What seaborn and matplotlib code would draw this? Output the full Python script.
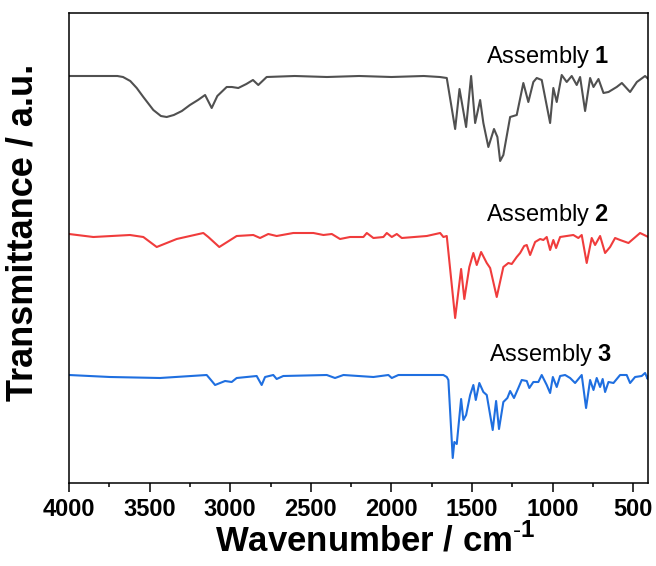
import numpy as np
import pandas as pd
import matplotlib
matplotlib.use("Agg")
import matplotlib.pyplot as plt
import seaborn as sns

# ---------------- data ----------------
wn1 = [4000, 3849, 3750, 3700, 3665, 3620, 3580, 3539, 3477, 3430, 3394, 3350, 3300, 3250,
       3200, 3156, 3115, 3080, 3022, 2990, 2950, 2900, 2859, 2826, 2774, 2600, 2400, 2200,
       2000, 1800, 1700, 1657, 1605, 1578, 1537, 1506, 1481, 1450, 1430, 1399, 1364, 1343,
       1326, 1306, 1264, 1223, 1182, 1151, 1120, 1099, 1068, 1016, 996, 975, 944, 913, 882,
       851, 830, 799, 768, 747, 716, 685, 654, 603, 571, 520, 478, 427, 407]
tr1 = [407, 407, 407, 407, 406, 402, 395, 386, 373, 367, 366, 368, 372, 378,
       383, 388, 375, 387, 396, 396, 395, 399, 403, 398, 406, 407, 406, 407,
       406, 407, 406, 405, 354, 394, 356, 407, 360, 383, 360, 336, 354, 346,
       322, 328, 366, 368, 400, 381, 401, 405, 403, 360, 395, 381, 408, 401, 407,
       398, 406, 372, 405, 396, 404, 390, 391, 396, 400, 391, 401, 407, 404]

wn2 = [4000, 3849, 3622, 3539, 3456, 3332, 3167, 3136, 3068, 2960, 2857, 2815, 2764, 2712,
       2609, 2484, 2422, 2370, 2319, 2257, 2174, 2153, 2112, 2050, 2029, 1998, 1967, 1936,
       1781, 1698, 1678, 1657, 1605, 1568, 1548, 1517, 1492, 1471, 1444, 1409, 1388, 1347,
       1306, 1275, 1254, 1223, 1202, 1177, 1161, 1140, 1109, 1078, 1058, 1037, 1016, 996,
       979, 954, 872, 841, 820, 789, 758, 737, 706, 675, 644, 613, 582, 530, 458, 407]
tr2 = [249, 246, 248, 246, 236, 244, 250, 246, 236, 247, 248, 245, 249, 247,
       250, 250, 248, 249, 244, 246, 246, 250, 245, 246, 250, 246, 249, 245,
       247, 250, 246, 247, 165, 214, 184, 216, 230, 218, 231, 220, 215, 186,
       216, 220, 219, 226, 230, 237, 238, 228, 241, 244, 243, 246, 233, 243,
       235, 246, 248, 245, 248, 220, 245, 238, 247, 230, 236, 245, 243, 240, 250, 246]

wn3 = [4000, 3746, 3436, 3146, 3130, 3094, 3032, 2991, 2960, 2836, 2805, 2784, 2733, 2712,
       2671, 2401, 2350, 2298, 2112, 2019, 1998, 1957, 1678, 1657, 1647, 1620, 1610, 1595,
       1568, 1554, 1537, 1512, 1492, 1477, 1455, 1430, 1409, 1372, 1351, 1333, 1306, 1281,
       1264, 1240, 1213, 1192, 1161, 1145, 1120, 1089, 1068, 1037, 1016, 999, 975, 954,
       923, 892, 861, 820, 793, 768, 747, 727, 706, 690, 675, 654, 623, 582, 541, 520,
       489, 448, 427, 411, 407]
tr3 = [108, 106, 105, 108, 105, 98, 102, 101, 105, 107, 98, 106, 108, 104,
       107, 108, 105, 108, 106, 108, 105, 108, 108, 106, 103, 25, 41, 39,
       84, 63, 68, 88, 98, 83, 100, 91, 88, 53, 82, 54, 81, 85,
       92, 85, 95, 103, 102, 95, 101, 101, 108, 98, 90, 106, 96, 107,
       108, 105, 100, 108, 75, 103, 93, 105, 96, 104, 91, 101, 100, 108, 108, 100,
       106, 107, 110, 104, 107]

series_names = ["Assembly 1", "Assembly 2", "Assembly 3"]
label_numbers = ["1", "2", "3"]
label_wn = [1032, 1032, 1011]
label_tr = [426, 268, 128]
x_ticks = [4000, 3500, 3000, 2500, 2000, 1500, 1000, 500]
colors = ["#505050", "#f03c3c", "#1f6fe0"]

# ---------------- styling ----------------
sns.set_style("ticks")
plt.rcParams["font.family"] = ["Liberation Sans", "DejaVu Sans"]
plt.rcParams["mathtext.fontset"] = "custom"
plt.rcParams["mathtext.rm"] = "Liberation Sans"
plt.rcParams["mathtext.bf"] = "Liberation Sans:bold"
plt.rcParams["text.color"] = "black"
plt.rcParams["axes.labelcolor"] = "black"
plt.rcParams["xtick.color"] = "black"
plt.rcParams["xtick.bottom"] = True

fig = plt.figure(figsize=(6.56, 5.66), dpi=100)
ax = fig.add_axes([69 / 656, 1 - 483 / 566, (648.3 - 69) / 656, (483 - 13) / 566])

frames = []
for name, wn, tr in zip(series_names, [wn1, wn2, wn3], [tr1, tr2, tr3]):
    frames.append(pd.DataFrame({"wn": wn, "tr": tr, "series": name}))
df = pd.concat(frames, ignore_index=True)

sns.lineplot(data=df, x="wn", y="tr", hue="series", palette=colors, sort=False,
             estimator=None, linewidth=1.5, legend=False, ax=ax)

for num, lw, lt in zip(label_numbers, label_wn, label_tr):
    ax.text(lw, lt, "Assembly $\\mathbf{" + num + "}$", ha="center", va="center",
            fontsize=17, color="black")

ax.set_xlim(4000, 407)
ax.set_ylim(0, 470)
ax.set_xticks(x_ticks)
ax.set_xticklabels([str(t) for t in x_ticks], fontsize=17, fontweight="bold")
ax.xaxis.set_minor_locator(matplotlib.ticker.MultipleLocator(250))
ax.tick_params(axis="x", which="both", bottom=True, top=False, colors="black")
ax.tick_params(axis="x", which="major", direction="out", length=6.5, width=1.1, pad=4)
ax.tick_params(axis="x", which="minor", direction="out", length=3.2, width=1.1)
ax.set_yticks([])
for sp in ax.spines.values():
    sp.set_visible(True)
    sp.set_linewidth(1.1)
    sp.set_color("black")

ax.set_xlabel("Wavenumber / cm$^{\\mathbf{\\text{-}1}}$", fontsize=25, fontweight="bold")
ax.xaxis.set_label_coords(0.528, -0.086)
ax.set_ylabel("Transmittance / a.u.", fontsize=26, fontweight="bold")
ax.yaxis.set_label_coords(-0.05, 0.534)

fig.savefig("out.png", dpi=100)
